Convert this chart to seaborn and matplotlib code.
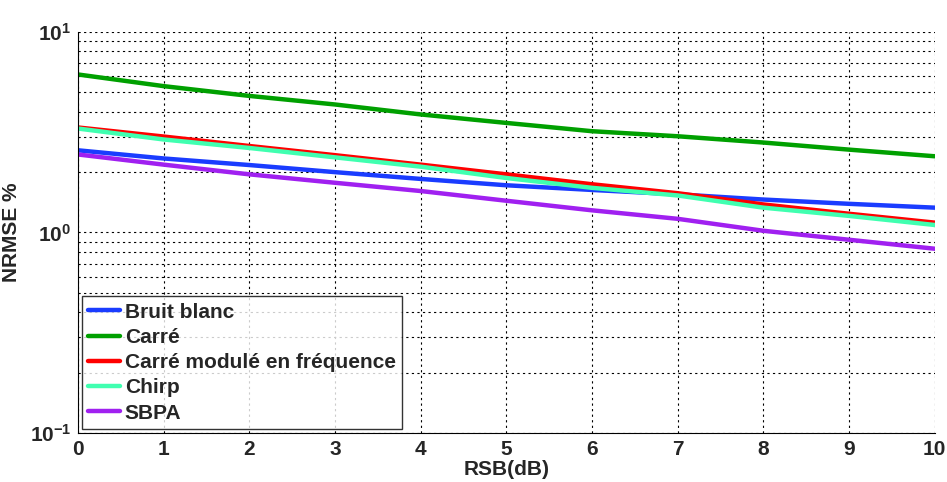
import numpy as np
import pandas as pd
import matplotlib
matplotlib.use("Agg")
import matplotlib.pyplot as plt
import matplotlib.ticker as mticker
import seaborn as sns

# RSB (dB) values and NRMSE %
rsb = [0, 1, 2, 3, 4, 5, 6, 7, 8, 9, 10]
bruit_blanc = [2.57, 2.34, 2.17, 2.00, 1.85, 1.72, 1.63, 1.55, 1.46, 1.39, 1.33]
carre = [6.14, 5.37, 4.80, 4.35, 3.88, 3.52, 3.20, 3.02, 2.81, 2.59, 2.40]
carre_module = [3.34, 3.01, 2.70, 2.43, 2.18, 1.95, 1.74, 1.57, 1.38, 1.24, 1.12]
chirp = [3.30, 2.91, 2.64, 2.37, 2.13, 1.87, 1.67, 1.53, 1.33, 1.21, 1.09]
sbpa = [2.45, 2.18, 1.95, 1.77, 1.61, 1.44, 1.29, 1.17, 1.02, 0.92, 0.83]

names = ["Bruit blanc", "Carré", "Carré modulé en fréquence", "Chirp", "SBPA"]
series = [bruit_blanc, carre, carre_module, chirp, sbpa]
colours = ["#1a3cff", "#00a000", "#ff0000", "#40ffb0", "#a020f0"]

df = pd.concat([pd.DataFrame({"RSB": rsb, "NRMSE": s, "signal": n})
                for n, s in zip(names, series)], ignore_index=True)

sns.set_style("white")
plt.rcParams['font.family'] = ['Liberation Sans', 'DejaVu Sans']
plt.rcParams['font.weight'] = 'bold'
plt.rcParams['axes.unicode_minus'] = False
plt.rcParams['mathtext.fontset'] = 'custom'
plt.rcParams['mathtext.rm'] = 'Liberation Sans:bold'
plt.rcParams['mathtext.it'] = 'Liberation Sans:bold'
plt.rcParams['mathtext.bf'] = 'Liberation Sans:bold'

fig = plt.figure(figsize=(9.47, 4.82), dpi=100)
ax = fig.add_axes([0.0824, 0.1017, 0.9046, 0.8319])

sns.lineplot(data=df, x="RSB", y="NRMSE", hue="signal", palette=colours,
             hue_order=names, linewidth=3.2, ax=ax)

ax.set_yscale("log")
ax.set_xlim(0, 10)
ax.set_ylim(0.1, 10)
ax.set_xticks(range(0, 11))
ax.yaxis.set_major_locator(mticker.LogLocator(base=10))
ax.yaxis.set_minor_locator(mticker.LogLocator(base=10, subs=np.arange(2, 10)))
ax.yaxis.set_minor_formatter(mticker.NullFormatter())
ax.yaxis.set_major_formatter(mticker.FuncFormatter(
    lambda v, p: r"$10^{%s}$" % ("-1" if v < 0.5 else str(int(round(np.log10(v)))))))

ax.grid(True, which="major", axis="both", color="black", linestyle=(0, (2, 3)), linewidth=0.8)
ax.grid(True, which="minor", axis="y", color="black", linestyle=(0, (2, 3)), linewidth=0.8)
ax.tick_params(axis="both", which="both", direction="in", labelsize=15)
ax.tick_params(axis="both", which="major", length=5, width=0.8, pad=5)
ax.tick_params(axis="y", which="minor", length=3, width=0.8)

ax.spines['top'].set_visible(False)
ax.spines['right'].set_visible(False)
ax.spines['left'].set_color('black')
ax.spines['bottom'].set_color('black')

ax.set_xlabel("RSB(dB)", fontsize=15, fontweight="bold", labelpad=1)
ax.set_ylabel("NRMSE %", fontsize=15, fontweight="bold", labelpad=6)

leg = ax.legend(loc="lower left", fontsize=15, frameon=True, fancybox=False,
                handlelength=1.5, handletextpad=0.25, borderpad=0.3,
                labelspacing=0.3, borderaxespad=0.2)
leg.get_frame().set_edgecolor("black")
leg.get_frame().set_linewidth(1.0)
for t in leg.get_texts():
    t.set_fontweight("bold")

fig.savefig("out.png", dpi=100)
